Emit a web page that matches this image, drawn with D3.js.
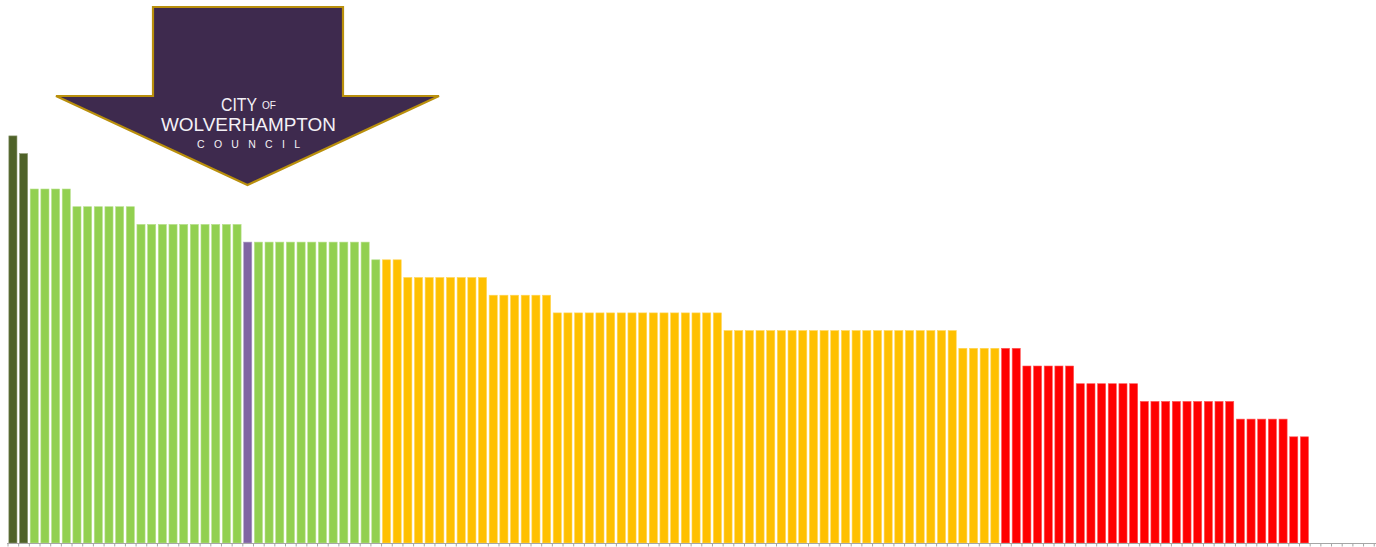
<!DOCTYPE html>
<html>
<head>
<meta charset="utf-8">
<script src="https://cdn.jsdelivr.net/npm/d3@7/dist/d3.min.js"></script>
<style>
  html, body { margin: 0; padding: 0; background: #ffffff; overflow: hidden; }
  svg { display: block; }
</style>
</head>
<body>
<svg id="chart" width="1376" height="547"></svg>
<script>
// ---- data ----
const slotCount = 129; // number of category slots on the axis (last ones empty)
const values = [
  23, 22,
  20, 20, 20, 20,
  19, 19, 19, 19, 19, 19,
  18, 18, 18, 18, 18, 18, 18, 18, 18, 18,
  17, 17, 17, 17, 17, 17, 17, 17, 17, 17, 17, 17,
  16, 16, 16,
  15, 15, 15, 15, 15, 15, 15, 15,
  14, 14, 14, 14, 14, 14,
  13, 13, 13, 13, 13, 13, 13, 13, 13, 13, 13, 13, 13, 13, 13, 13,
  12, 12, 12, 12, 12, 12, 12, 12, 12, 12, 12, 12, 12, 12, 12, 12, 12, 12, 12, 12, 12, 12,
  11, 11, 11, 11, 11, 11,
  10, 10, 10, 10, 10,
  9, 9, 9, 9, 9, 9,
  8, 8, 8, 8, 8, 8, 8, 8, 8,
  7, 7, 7, 7, 7,
  6, 6
];
const groups = [].concat(
  Array(2).fill("top"),
  Array(20).fill("green"),
  ["wolverhampton"],
  Array(12).fill("green"),
  Array(58).fill("amber"),
  Array(29).fill("red")
);
const groupNames = ["top", "green", "wolverhampton", "amber", "red"];
const groupColors = ["#4F6228", "#92D050", "#8064A2", "#FFC000", "#FF0000"];
const logoLines = ["CITY", "OF", "WOLVERHAMPTON", "COUNCIL"];

// ---- scales ----
const svg = d3.select("#chart");
const slot = 10.667;
const left = 8;
const baseline = 543;
const unit = 17.7;

const categories = d3.range(slotCount);
const x = d3.scaleBand()
  .domain(categories)
  .range([left, left + slotCount * slot])
  .paddingInner(0.24)
  .paddingOuter(0.08);
const y = d3.scaleLinear().domain([0, 30]).range([baseline, baseline - 30 * unit]);
const color = d3.scaleOrdinal().domain(groupNames).range(groupColors);

const step = x.step();
const slotStart = i => left + i * step;

// ---- bars ----
const data = values.map((v, i) => ({ i, v, g: groups[i] }));
svg.append("g").selectAll("rect").data(data).join("rect")
  .attr("x", d => x(d.i))
  .attr("y", d => y(d.v))
  .attr("width", x.bandwidth())
  .attr("height", d => y(0) - y(d.v))
  .attr("fill", d => color(d.g))
  .attr("stroke", d => d3.interpolateRgb(color(d.g), "#ffffff")(0.35))
  .attr("stroke-width", 0.6);

// ---- axis ----
const axis = svg.append("g");
axis.append("line")
  .attr("x1", left - 1).attr("x2", 1376)
  .attr("y1", baseline + 0.5).attr("y2", baseline + 0.5)
  .attr("stroke", "#A6A6A6").attr("stroke-width", 1.2);
axis.selectAll("line.tick").data(d3.range(slotCount + 1)).join("line")
  .attr("class", "tick")
  .attr("x1", d => slotStart(d)).attr("x2", d => slotStart(d))
  .attr("y1", baseline + 0.5).attr("y2", baseline + 3.5)
  .attr("stroke", "#A6A6A6").attr("stroke-width", 1);

// ---- council arrow ----
const arrow = svg.append("g");
const pts = [
  [153, 7], [343, 7], [343, 96], [439, 96], [247.5, 185],
  [56, 96], [153, 96]
];
arrow.append("path")
  .attr("d", d3.line()(pts) + "Z")
  .attr("fill", "#3E2A4E")
  .attr("stroke", "#B98F0C")
  .attr("stroke-width", 2.2)
  .attr("stroke-linejoin", "miter");

const tf = "'Liberation Sans', 'DejaVu Sans', sans-serif";
arrow.append("text")
  .attr("x", 221).attr("y", 110.5)
  .attr("font-family", tf).attr("font-size", 17.5)
  .attr("fill", "#F4F1F6")
  .attr("textLength", 36).attr("lengthAdjust", "spacingAndGlyphs")
  .text(logoLines[0]);
arrow.append("text")
  .attr("x", 262).attr("y", 108.5)
  .attr("font-family", tf).attr("font-size", 10.5)
  .attr("fill", "#F4F1F6")
  .attr("textLength", 14).attr("lengthAdjust", "spacingAndGlyphs")
  .text(logoLines[1]);
arrow.append("text")
  .attr("x", 161).attr("y", 130.5)
  .attr("font-family", tf).attr("font-size", 17.5)
  .attr("fill", "#F4F1F6")
  .attr("textLength", 175).attr("lengthAdjust", "spacingAndGlyphs")
  .text(logoLines[2]);
arrow.append("text")
  .attr("x", 197).attr("y", 147.5)
  .attr("font-family", tf).attr("font-size", 10.5)
  .attr("fill", "#F4F1F6")
  .attr("textLength", 103).attr("lengthAdjust", "spacing")
  .text(logoLines[3]);
</script>
</body>
</html>
